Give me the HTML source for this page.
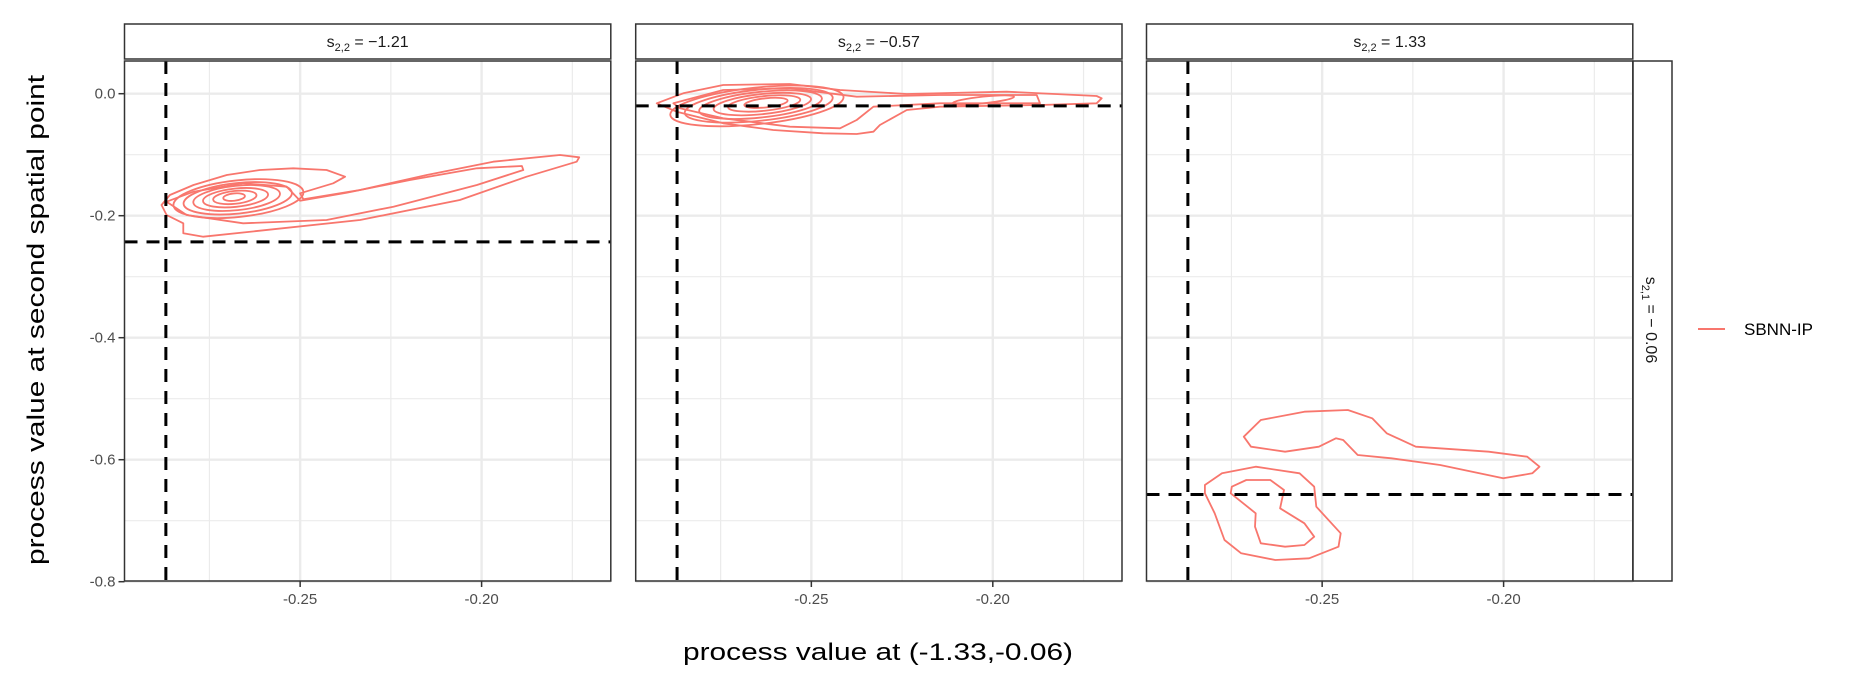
<!DOCTYPE html>
<html><head><meta charset="utf-8"><style>
html,body{margin:0;padding:0;background:#fff;}
svg{display:block;font-family:"Liberation Sans","DejaVu Sans",sans-serif;}
</style></head><body>
<svg id="chart" width="1860" height="690" viewBox="0 0 1860 690" xmlns="http://www.w3.org/2000/svg">
<text transform="translate(44,320) rotate(-90)" text-anchor="middle" font-size="24" fill="#000" textLength="490" lengthAdjust="spacingAndGlyphs">process value at second spatial point</text>
<text x="878" y="660" text-anchor="middle" font-size="24" fill="#000" textLength="390" lengthAdjust="spacingAndGlyphs">process value at (-1.33,-0.06)</text>
<g>
<rect x="1633" y="61" width="39" height="520" fill="#fff" stroke="#333" stroke-width="1.5"/>
<text transform="translate(1646,320) rotate(90)" text-anchor="middle" font-size="16" fill="#1a1a1a">s<tspan font-size="11" dy="4">2,1</tspan><tspan dy="-4"> = − 0.06</tspan></text>
</g>
<g>
<line x1="1698" y1="329" x2="1725" y2="329" stroke="#F8766D" stroke-width="2"/>
<text x="1744" y="335" font-size="17" fill="#000">SBNN-IP</text>
</g>
<g id="panels"></g>
</svg>
<script>
const panelLabels = ["−1.21", "−0.57", "1.33"];
const xTicks = [-0.25, -0.20];
const xTickLabels = ["-0.25", "-0.20"];
const xMinor = [-0.275, -0.225, -0.175];
const yTicks = [0.0, -0.2, -0.4, -0.6, -0.8];
const yTickLabels = ["0.0", "-0.2", "-0.4", "-0.6", "-0.8"];
const yMinor = [-0.1, -0.3, -0.5, -0.7];
const refX = [-0.287, -0.287, -0.287];
const refY = [-0.243, -0.020, -0.657];
const contours1 = [
 [[-0.2882,-0.1825],[-0.2868,-0.1989],[-0.2822,-0.2125],[-0.2822,-0.2289],[-0.2767,-0.2344],[-0.2611,-0.2246],[-0.2335,-0.2070],[-0.2060,-0.1743],[-0.1876,-0.1361],[-0.1738,-0.1115],[-0.1731,-0.1043],[-0.1784,-0.1005],[-0.1968,-0.1115],[-0.2151,-0.1333],[-0.2335,-0.1579],[-0.2491,-0.1731],[-0.2500,-0.1633],[-0.2409,-0.1469],[-0.2376,-0.1361],[-0.2427,-0.1251],[-0.2519,-0.1223],[-0.2611,-0.1251],[-0.2702,-0.1333],[-0.2794,-0.1497],[-0.2859,-0.1661]],
 [[-0.2868,-0.1770],[-0.2813,-0.1989],[-0.2657,-0.2125],[-0.2427,-0.2070],[-0.2243,-0.1852],[-0.2013,-0.1497],[-0.1885,-0.1251],[-0.1889,-0.1185],[-0.2013,-0.1223],[-0.2197,-0.1415],[-0.2372,-0.1623],[-0.2500,-0.1754],[-0.2537,-0.1525],[-0.2657,-0.1469],[-0.2794,-0.1607]]
];
const contours2 = [
 [[-0.2926,-0.0157],[-0.2853,0.0007],[-0.2743,0.0143],[-0.2559,0.0159],[-0.2421,0.0061],[-0.2237,-0.0005],[-0.1962,0.0033],[-0.1714,-0.0038],[-0.1700,-0.0075],[-0.1714,-0.0157],[-0.1870,-0.0185],[-0.2146,-0.0213],[-0.2237,-0.0267],[-0.2311,-0.0513],[-0.2329,-0.0623],[-0.2375,-0.0661],[-0.2467,-0.0649],[-0.2605,-0.0595],[-0.2743,-0.0485],[-0.2871,-0.0295]],
 [[-0.2880,-0.0157],[-0.2743,0.0061],[-0.2559,0.0089],[-0.2375,-0.0049],[-0.2146,-0.0021],[-0.1879,-0.0021],[-0.1870,-0.0157],[-0.2146,-0.0157],[-0.2329,-0.0213],[-0.2375,-0.0431],[-0.2421,-0.0567],[-0.2559,-0.0541],[-0.2743,-0.0403],[-0.2862,-0.0239]]
];
const contours3 = [
 [[-0.2716,-0.5623],[-0.2669,-0.5349],[-0.2549,-0.5213],[-0.2429,-0.5185],[-0.2362,-0.5321],[-0.2322,-0.5567],[-0.2242,-0.5787],[-0.2041,-0.5869],[-0.1935,-0.5951],[-0.1901,-0.6115],[-0.1921,-0.6223],[-0.2001,-0.6305],[-0.2175,-0.6087],[-0.2309,-0.5977],[-0.2402,-0.5923],[-0.2442,-0.5677],[-0.2462,-0.5649],[-0.2509,-0.5787],[-0.2602,-0.5869],[-0.2696,-0.5787]],
 [[-0.2823,-0.6415],[-0.2776,-0.6223],[-0.2683,-0.6115],[-0.2562,-0.6223],[-0.2522,-0.6443],[-0.2516,-0.6770],[-0.2449,-0.7207],[-0.2455,-0.7426],[-0.2536,-0.7617],[-0.2629,-0.7644],[-0.2723,-0.7535],[-0.2769,-0.7316],[-0.2796,-0.6879],[-0.2823,-0.6551]],
 [[-0.2749,-0.6443],[-0.2709,-0.6333],[-0.2643,-0.6333],[-0.2605,-0.6497],[-0.2616,-0.6797],[-0.2549,-0.7043],[-0.2522,-0.7262],[-0.2549,-0.7398],[-0.2602,-0.7426],[-0.2669,-0.7370],[-0.2685,-0.7098],[-0.2683,-0.6879],[-0.2723,-0.6689],[-0.2752,-0.6551]]
];
const allContours = [contours1, contours2, contours3];
const innerCx = [[-0.2670,-0.2672,-0.2675,-0.2678,-0.2680,-0.2682],[-0.2650,-0.2645,-0.2640,-0.2635,-0.2630,-0.2625,-0.2026],[]];
const innerCy = [[-0.1720,-0.1715,-0.1710,-0.1705,-0.1700,-0.1695],[-0.0200,-0.0190,-0.0180,-0.0170,-0.0160,-0.0150,-0.0103],[]];
const innerRx = [[0.0180,0.0150,0.0120,0.0090,0.0060,0.0030],[0.0240,0.0205,0.0170,0.0135,0.0100,0.0060,0.0085],[]];
const innerRy = [[0.0300,0.0250,0.0200,0.0150,0.0105,0.0060],[0.0300,0.0255,0.0210,0.0165,0.0120,0.0075,0.0055],[]];

const NS = "http://www.w3.org/2000/svg";
const panelLeft = [124.5, 635.7, 1146.5];
const panelW = 486.3, pTop = 61, pBot = 581;
const xMin = -0.2984, xMax = -0.1644;
function xs(p, v){ return panelLeft[p] + (v - xMin) / (xMax - xMin) * panelW; }
function ys(v){ return 93.7 - v * 610; }
function mk(tag, attrs, parent){ const e = document.createElementNS(NS, tag); for (const k in attrs) e.setAttribute(k, attrs[k]); parent.appendChild(e); return e; }
const root = document.getElementById('panels');
for (let p = 0; p < 3; p++){
  const L = panelLeft[p], R = L + panelW;
  const g = mk('g', {}, root);
  
  
  const st = mk('g', {}, g);
  
  
  mk('rect', {x:L, y:24, width:panelW, height:35, fill:'#fff', stroke:'#333', 'stroke-width':1.5}, st);
  const t = mk('text', {x:L+panelW/2, y:47, 'text-anchor':'middle', 'font-size':16, fill:'#1a1a1a'}, st);
  t.innerHTML = 's<tspan font-size="11" dy="4">2,2</tspan><tspan dy="-4"> = ' + panelLabels[p] + '</tspan>';
  const gr = mk('g', {}, g);
  
  
  xMinor.forEach(v => mk('line', {x1:xs(p,v), x2:xs(p,v), y1:pTop, y2:pBot, stroke:'#ebebeb', 'stroke-width':1.2}, gr));
  yMinor.forEach(v => mk('line', {x1:L, x2:R, y1:ys(v), y2:ys(v), stroke:'#ebebeb', 'stroke-width':1.2}, gr));
  xTicks.forEach(v => mk('line', {x1:xs(p,v), x2:xs(p,v), y1:pTop, y2:pBot, stroke:'#ebebeb', 'stroke-width':2.4}, gr));
  yTicks.forEach(v => mk('line', {x1:L, x2:R, y1:ys(v), y2:ys(v), stroke:'#ebebeb', 'stroke-width':2.4}, gr));
  const cg = mk('g', {fill:'none', stroke:'#F8766D', 'stroke-width':1.8, 'stroke-linejoin':'round'}, g);
  
  
  allContours[p].forEach(c => {
    const d = c.map((pt,i) => (i ? 'L' : 'M') + xs(p,pt[0]).toFixed(1) + ',' + ys(pt[1]).toFixed(1)).join(' ') + ' Z';
    const path = mk('path', {d:d}, cg);
    
    
  });
  innerCx[p].forEach((cx,i) => {
    const ex = xs(p,cx), ey = ys(innerCy[p][i]);
    const e = mk('ellipse', {cx:ex, cy:ey, rx:innerRx[p][i]*panelW/(xMax-xMin), ry:innerRy[p][i]*610, transform:'rotate(-6 '+ex+' '+ey+')'}, cg);
    
    
  });
  const vl = mk('line', {x1:xs(p,refX[p]), x2:xs(p,refX[p]), y1:pTop, y2:pBot, stroke:'#000', 'stroke-width':3, 'stroke-dasharray':'13,9'}, g);
  
  
  const hl = mk('line', {x1:L, x2:R, y1:ys(refY[p]), y2:ys(refY[p]), stroke:'#000', 'stroke-width':3, 'stroke-dasharray':'13,9'}, g);
  
  
  const b = mk('rect', {x:L, y:pTop, width:panelW, height:pBot-pTop, fill:'none', stroke:'#333', 'stroke-width':1.5}, g);
  
  
  const xa = mk('g', {}, g);
  
  
  xTicks.forEach((v,i) => {
    mk('line', {x1:xs(p,v), x2:xs(p,v), y1:pBot, y2:pBot+6, stroke:'#333', 'stroke-width':1.5}, xa);
    const tl = mk('text', {x:xs(p,v), y:pBot+23, 'text-anchor':'middle', 'font-size':15, fill:'#4d4d4d'}, xa);
    tl.textContent = xTickLabels[i];
  });
  if (p === 0){
    const ya = mk('g', {}, g);
    
    
    yTicks.forEach((v,i) => {
      mk('line', {x1:L-6, x2:L, y1:ys(v), y2:ys(v), stroke:'#333', 'stroke-width':1.5}, ya);
      const tl = mk('text', {x:L-9, y:ys(v)+5, 'text-anchor':'end', 'font-size':15, fill:'#4d4d4d'}, ya);
      tl.textContent = yTickLabels[i];
    });
  }
}
</script>
</body></html>
